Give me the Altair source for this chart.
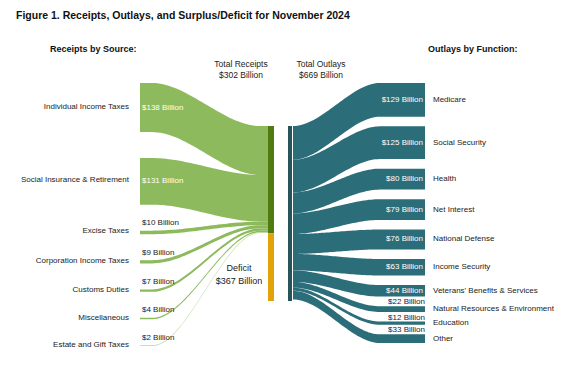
import numpy as np
import pandas as pd
import altair as alt

# ---------------- data ----------------
sources = ["Individual Income Taxes", "Social Insurance & Retirement", "Excise Taxes",
           "Corporation Income Taxes", "Customs Duties", "Miscellaneous", "Estate and Gift Taxes"]
receipts = [138, 131, 10, 9, 7, 4, 2]
functions = ["Medicare", "Social Security", "Health", "Net Interest", "National Defense",
             "Income Security", "Veterans' Benefits & Services", "Natural Resources & Environment",
             "Education", "Other"]
outlays = [129, 125, 80, 79, 76, 63, 44, 22, 12, 33]
total_receipts = 302
total_outlays = 669
deficit = 367

title = "Figure 1. Receipts, Outlays, and Surplus/Deficit for November 2024"

# ---------------- layout (page pixels) ----------------
W, H = 551, 357
L_X0, L_CURVE0, L_CURVE1, L_X1 = 140, 152, 260, 268   # left links
RB_X0, RB_X1 = 268, 274                                # receipts / deficit bar
OB_X0, OB_X1 = 288, 292                                # outlays bar
R_X0, R_CURVE1, R_X1 = 293, 380, 425                   # right links
L_TOP, L_BOT, L_GAP = 83, 346, 26
R_TOP, R_BOT = 83, 343
BAR_TOP, OB_BOT = 126, 301

k1 = (L_BOT - L_TOP - (len(receipts) - 1) * L_GAP) / sum(receipts)
k2 = (OB_BOT - BAR_TOP) / total_outlays
r_gap = (R_BOT - R_TOP - sum(outlays) * k2) / (len(outlays) - 1)


def smooth(u):
    u = min(max(u, 0.0), 1.0)
    return 3 * u ** 2 - 2 * u ** 3


rows = []
# left links
node_top = L_TOP
bar_y = BAR_TOP
left_nodes = []
for name, v in zip(sources, receipts):
    h = v * k1
    left_nodes.append((name, v, node_top, h))
    xs = np.concatenate([[L_X0], np.linspace(L_CURVE0, L_CURVE1, 40), [L_X1]])
    for x in xs:
        u = (x - L_CURVE0) / (L_CURVE1 - L_CURVE0)
        top = node_top + (bar_y - node_top) * smooth(u)
        rows.append({"link": "L_" + name, "x": x, "y": top, "y2": top + max(h, 0.6),
                     "c": "#8cba5c" if v > 2 else "#b5d493"})
    node_top += h + L_GAP
    bar_y += h

# right links
node_top = R_TOP
bar_y = BAR_TOP
right_nodes = []
for name, v in zip(functions, outlays):
    h = v * k2
    right_nodes.append((name, v, node_top, h))
    xs = np.concatenate([np.linspace(R_X0, R_CURVE1, 40), [R_X1]])
    for x in xs:
        u = (x - R_X0) / (R_CURVE1 - R_X0)
        top = bar_y + (node_top - bar_y) * smooth(u)
        rows.append({"link": "R_" + name, "x": x, "y": top, "y2": top + h, "c": "#2b6d78"})
    node_top += h + r_gap
    bar_y += h

links = pd.DataFrame(rows)

rec_bot = BAR_TOP + total_receipts * k1
bars = pd.DataFrame([
    {"x": RB_X0, "x2": RB_X1, "y": BAR_TOP, "y2": rec_bot, "c": "#4f7b10"},
    {"x": RB_X0, "x2": RB_X1, "y": rec_bot, "y2": OB_BOT, "c": "#e2a20a"},
    {"x": OB_X0, "x2": OB_X1, "y": BAR_TOP, "y2": OB_BOT, "c": "#27545a"},
])

# texts
t_right = []   # right-aligned
t_left = []    # left-aligned
for name, v, top, h in left_nodes:
    t_right.append({"x": 129, "y": top + h / 2 - 1, "t": name, "c": "#222222"})
    if v >= 100:
        t_left.append({"x": 142, "y": top + h / 2, "t": f"${v} Billion", "c": "#ffffff"})
    else:
        t_left.append({"x": 142, "y": top - 7.5, "t": f"${v} Billion", "c": "#222222"})
for name, v, top, h in right_nodes:
    t_left.append({"x": 433, "y": top + h / 2, "t": name, "c": "#222222"})
    if v >= 40:
        t_right.append({"x": 423, "y": top + h / 2, "t": f"${v} Billion", "c": "#ffffff"})
    else:
        t_right.append({"x": 425, "y": top - 4, "t": f"${v} Billion", "c": "#222222"})
t_right = pd.DataFrame(t_right)
t_left = pd.DataFrame(t_left)

t_center = pd.DataFrame([
    {"x": 241, "y": 64, "t": "Total Receipts"},
    {"x": 241, "y": 75, "t": f"${total_receipts} Billion"},
    {"x": 321, "y": 64, "t": "Total Outlays"},
    {"x": 321, "y": 75, "t": f"${total_outlays} Billion"},
])
t_def = pd.DataFrame([
    {"x": 239, "y": 268, "t": "Deficit"},
    {"x": 239, "y": 281, "t": f"${deficit} Billion"},
])
t_head = pd.DataFrame([
    {"x": 50, "y": 49, "t": "Receipts by Source:"},
    {"x": 428, "y": 49, "t": "Outlays by Function:"},
])
t_title = pd.DataFrame([{"x": 16, "y": 16, "t": title}])

X = alt.X("x:Q", scale=alt.Scale(domain=[8, 8 + W], nice=False, zero=False), axis=None)
Y = alt.Y("y:Q", scale=alt.Scale(domain=[8, 8 + H], nice=False, zero=False, reverse=True), axis=None)
FONT = "Liberation Sans"

area = alt.Chart(links).mark_area(interpolate="linear").encode(
    x=X, y=Y, y2="y2:Q", detail="link:N", color=alt.Color("c:N", scale=None))
rects = alt.Chart(bars).mark_rect().encode(
    x=X, x2="x2:Q", y=Y, y2="y2:Q", color=alt.Color("c:N", scale=None))
txt_r = alt.Chart(t_right).mark_text(align="right", baseline="middle", font=FONT, fontSize=8).encode(
    x=X, y=Y, text="t:N", color=alt.Color("c:N", scale=None))
txt_l = alt.Chart(t_left).mark_text(align="left", baseline="middle", font=FONT, fontSize=8).encode(
    x=X, y=Y, text="t:N", color=alt.Color("c:N", scale=None))
txt_c = alt.Chart(t_center).mark_text(align="center", baseline="middle", font=FONT, fontSize=8.5,
                                      color="#222222").encode(x=X, y=Y, text="t:N")
txt_d = alt.Chart(t_def).mark_text(align="center", baseline="middle", font=FONT, fontSize=9,
                                   color="#222222").encode(x=X, y=Y, text="t:N")
txt_h = alt.Chart(t_head).mark_text(align="left", baseline="middle", font=FONT, fontSize=9,
                                    fontWeight="bold", color="#111111").encode(x=X, y=Y, text="t:N")
txt_t = alt.Chart(t_title).mark_text(align="left", baseline="middle", font=FONT, fontSize=10.5,
                                     fontWeight="bold", color="#111111").encode(x=X, y=Y, text="t:N")

chart = alt.layer(area, rects, txt_r, txt_l, txt_c, txt_d, txt_h, txt_t).properties(
    width=W, height=H, padding=0, background="white"
).configure_view(stroke=None)

chart.save("out.html", embed_options={"renderer": "svg", "actions": False})
